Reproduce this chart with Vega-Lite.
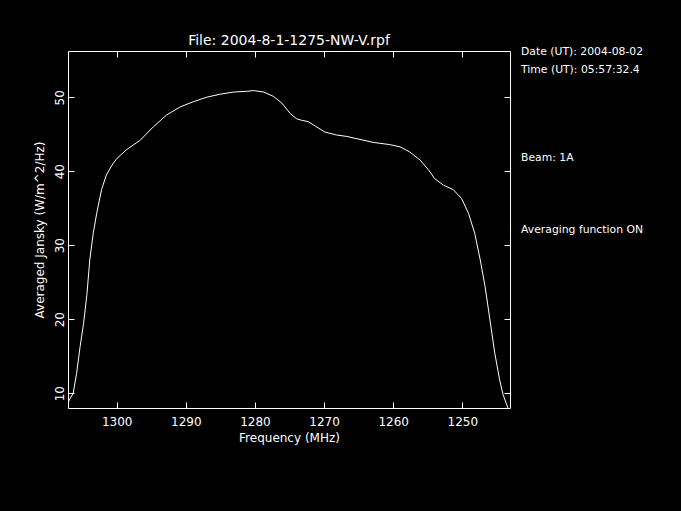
{
  "$schema": "https://vega.github.io/schema/vega-lite/v6.json",
  "width": 442,
  "height": 357,
  "autosize": {"type": "none"},
  "padding": {"left": 68, "top": 51, "right": 171, "bottom": 103},
  "background": "black",
  "title": {"text": "File: 2004-8-1-1275-NW-V.rpf", "color": "white", "font": "DejaVu Sans", "fontSize": 14, "fontWeight": "normal", "anchor": "middle", "offset": -2},
  "config": {
    "view": {"stroke": null},
    "font": "DejaVu Sans",
    "axis": {"grid": false, "domainColor": "white", "tickColor": "white", "labelColor": "white", "titleColor": "white", "labelFont": "DejaVu Sans", "titleFont": "DejaVu Sans", "labelFontSize": 12, "titleFontSize": 12, "titleFontWeight": "normal", "domainWidth": 1, "tickWidth": 1, "tickSize": -6}
  },
  "datasets": {
    "spectrum": [
      {"freq": 1307.0, "val": 8.85}, {"freq": 1306.3, "val": 10.0}, {"freq": 1305.8, "val": 12.7}, {"freq": 1305.3, "val": 16.3},
      {"freq": 1304.8, "val": 19.4}, {"freq": 1304.3, "val": 23.5}, {"freq": 1303.9, "val": 28.0}, {"freq": 1303.4, "val": 31.6},
      {"freq": 1302.9, "val": 34.3}, {"freq": 1302.2, "val": 37.5}, {"freq": 1301.5, "val": 39.5}, {"freq": 1300.7, "val": 40.8},
      {"freq": 1300.0, "val": 41.7}, {"freq": 1298.6, "val": 42.9}, {"freq": 1296.6, "val": 44.2}, {"freq": 1294.7, "val": 46.0},
      {"freq": 1292.8, "val": 47.6}, {"freq": 1290.8, "val": 48.7}, {"freq": 1288.9, "val": 49.4}, {"freq": 1287.0, "val": 50.0},
      {"freq": 1285.1, "val": 50.4}, {"freq": 1283.1, "val": 50.7}, {"freq": 1281.2, "val": 50.8}, {"freq": 1280.2, "val": 50.9},
      {"freq": 1278.7, "val": 50.7}, {"freq": 1277.3, "val": 50.1}, {"freq": 1276.1, "val": 49.2}, {"freq": 1274.9, "val": 47.8},
      {"freq": 1274.0, "val": 47.1}, {"freq": 1273.3, "val": 46.9}, {"freq": 1272.3, "val": 46.7}, {"freq": 1271.1, "val": 46.0},
      {"freq": 1269.9, "val": 45.3}, {"freq": 1268.2, "val": 44.9}, {"freq": 1266.7, "val": 44.7}, {"freq": 1264.8, "val": 44.3},
      {"freq": 1262.9, "val": 43.9}, {"freq": 1260.5, "val": 43.6}, {"freq": 1259.0, "val": 43.3}, {"freq": 1257.6, "val": 42.6},
      {"freq": 1256.1, "val": 41.5}, {"freq": 1254.9, "val": 40.2}, {"freq": 1254.0, "val": 39.0}, {"freq": 1252.7, "val": 38.1},
      {"freq": 1251.3, "val": 37.5}, {"freq": 1250.1, "val": 36.3}, {"freq": 1249.1, "val": 34.3}, {"freq": 1248.2, "val": 31.6},
      {"freq": 1247.4, "val": 28.0}, {"freq": 1246.7, "val": 24.4}, {"freq": 1246.0, "val": 19.9}, {"freq": 1245.3, "val": 15.4},
      {"freq": 1244.6, "val": 11.8}, {"freq": 1244.1, "val": 9.8}, {"freq": 1243.4, "val": 8.0}
    ],
    "notes": [
      {"freq": 1241.5, "val": 56.1, "label": "Date (UT): 2004-08-02"},
      {"freq": 1241.5, "val": 53.68, "label": "Time (UT): 05:57:32.4"},
      {"freq": 1241.5, "val": 41.78, "label": "Beam: 1A"},
      {"freq": 1241.5, "val": 32.05, "label": "Averaging function ON"}
    ]
  },
  "layer": [
    {
      "data": {"name": "spectrum"},
      "mark": {"type": "line", "color": "white", "strokeWidth": 1, "clip": true},
      "encoding": {
        "x": {"field": "freq", "type": "quantitative", "scale": {"domain": [1243.1, 1307.05], "reverse": true, "nice": false, "zero": false},
              "axis": {"orient": "bottom", "title": "Frequency (MHz)", "format": "d", "values": [1250, 1260, 1270, 1280, 1290, 1300], "labelPadding": 14, "titlePadding": 5}},
        "y": {"field": "val", "type": "quantitative", "scale": {"domain": [8, 56.25], "nice": false, "zero": false},
              "axis": {"orient": "left", "title": "Averaged Jansky (W/m^2/Hz)", "values": [10, 20, 30, 40, 50], "labelAngle": -90, "labelPadding": 8, "titlePadding": 7}}
      }
    },
    {
      "data": {"name": "spectrum"},
      "mark": {"type": "line", "color": "white", "strokeWidth": 1, "opacity": 0},
      "encoding": {
        "x": {"field": "freq", "type": "quantitative", "axis": {"orient": "top", "title": null, "labels": false, "values": [1250, 1260, 1270, 1280, 1290, 1300]}},
        "y": {"field": "val", "type": "quantitative", "axis": {"orient": "right", "title": null, "labels": false, "values": [10, 20, 30, 40, 50]}}
      }
    },
    {
      "data": {"name": "notes"},
      "mark": {"type": "text", "color": "white", "align": "left", "baseline": "middle", "fontSize": 10.8, "font": "DejaVu Sans"},
      "encoding": {
        "x": {"field": "freq", "type": "quantitative", "axis": null},
        "y": {"field": "val", "type": "quantitative", "axis": null},
        "text": {"field": "label"}
      }
    }
  ],
  "resolve": {"axis": {"x": "independent", "y": "independent"}}
}
